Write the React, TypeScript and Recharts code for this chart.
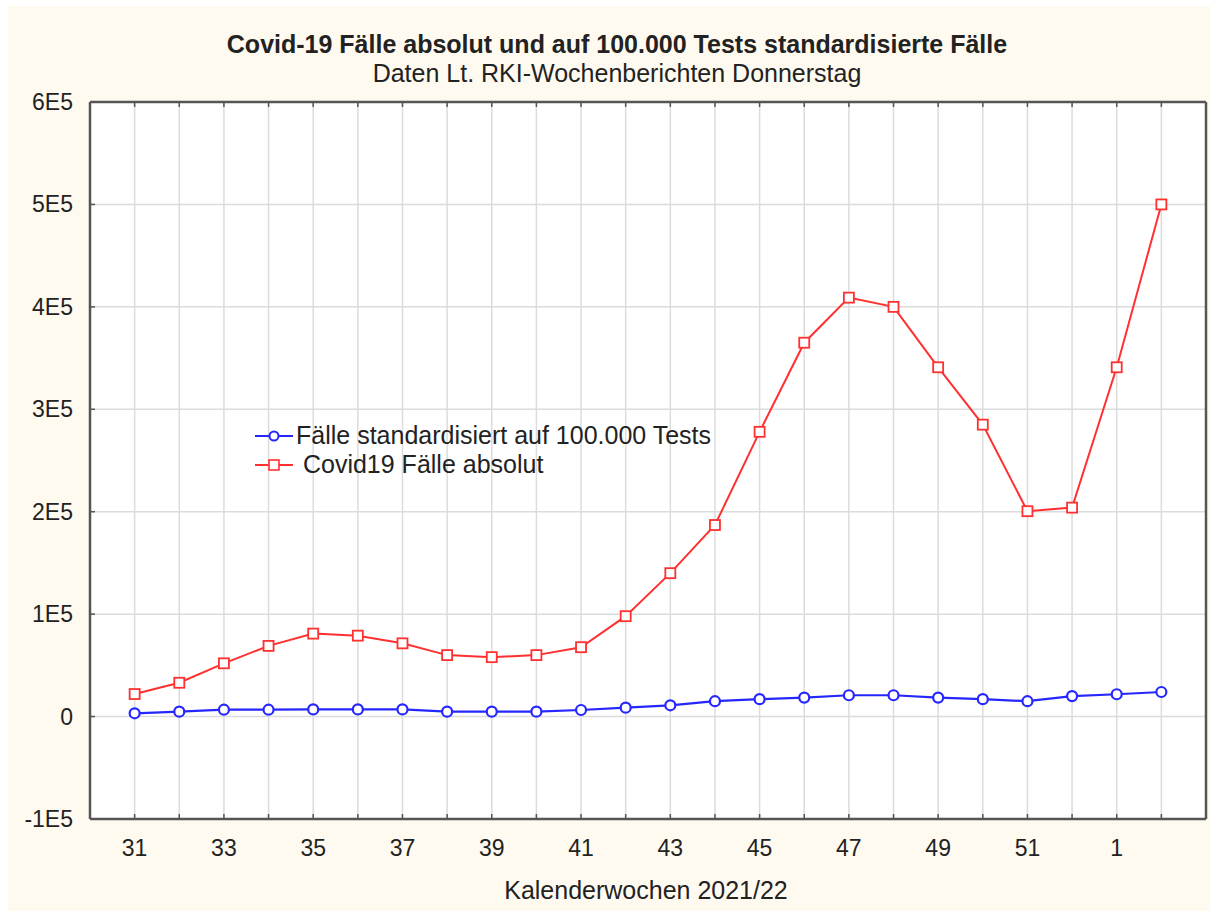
import React from 'react';
import {
  LineChart,
  Line,
  XAxis,
  YAxis,
  CartesianGrid,
  Legend
} from 'recharts';

// Kalenderwochen 2021/22
const weeks = ['31', '32', '33', '34', '35', '36', '37', '38', '39', '40', '41', '42',
  '43', '44', '45', '46', '47', '48', '49', '50', '51', '52', '1', '2'];

// Fälle standardisiert auf 100.000 Tests
const standardized = [3200, 4800, 6700, 6700, 7000, 7000, 7000, 4800, 4800, 4800, 6400, 8700,
  11000, 15000, 17000, 18500, 20800, 20800, 18500, 17000, 15000, 20000, 21800, 24000];

// Covid19 Fälle absolut
const absolute = [22000, 33000, 52000, 69000, 81000, 79000, 71500, 60000, 58000, 60000, 67700, 98000,
  140000, 187000, 278000, 365000, 409000, 400000, 341000, 285000, 200500, 204000, 341000, 500000];

const yTicks = [-100000, 0, 100000, 200000, 300000, 400000, 500000, 600000];

const data = weeks.map((w, i) => ({ idx: i, week: w, std: standardized[i], abs: absolute[i] }));
const xTicks = data.map((d) => d.idx);

const FONT = '"Liberation Sans", Arial, sans-serif';
const TEXT = '#222';
const FRAME = '#555';
const BLUE = '#2626ff';
const RED = '#ff3030';

const fmtY = (v: number) => (v === 0 ? '0' : `${v / 100000}E5`);

const BottomTick = (props: any) => {
  const { x, y, payload } = props;
  const i = payload.value;
  return (
    <g>
      <line x1={x} y1={y} x2={x} y2={y - 5} stroke={FRAME} strokeWidth={1.5} />
      {i % 2 === 0 && (
        <text x={x} y={y + 29} textAnchor="middle" dominantBaseline="central"
          fontFamily={FONT} fontSize={23} fill={TEXT}>
          {weeks[i]}
        </text>
      )}
    </g>
  );
};

const TopTick = (props: any) => {
  const { x, y } = props;
  return <line x1={x} y1={y} x2={x} y2={y + 5} stroke={FRAME} strokeWidth={1.5} />;
};

const LeftTick = (props: any) => {
  const { x, y, payload } = props;
  return (
    <g>
      <line x1={x} y1={y} x2={x + 5} y2={y} stroke={FRAME} strokeWidth={1.5} />
      <text x={x - 17} y={y} textAnchor="end" dominantBaseline="central"
        fontFamily={FONT} fontSize={23} fill={TEXT}>
        {fmtY(payload.value)}
      </text>
    </g>
  );
};

const RightTick = (props: any) => {
  const { x, y } = props;
  return <line x1={x} y1={y} x2={x - 5} y2={y} stroke={FRAME} strokeWidth={1.5} />;
};

const SquareDot = (props: any) => {
  const { cx, cy, index } = props;
  return (
    <rect key={`sq-${index}`} x={cx - 5} y={cy - 5} width={10} height={10}
      fill="#fff" stroke={RED} strokeWidth={1.8} />
  );
};

const LegendBox = () => (
  <div style={{ fontFamily: FONT, fontSize: 25, color: TEXT, lineHeight: '29px' }}>
    <div style={{ display: 'flex', alignItems: 'center', height: 29 }}>
      <svg width={40} height={20}>
        <line x1={0} y1={10} x2={38} y2={10} stroke={BLUE} strokeWidth={2} />
        <circle cx={19} cy={10} r={4.5} fill="#fff" stroke={BLUE} strokeWidth={2} />
      </svg>
      <span style={{ marginLeft: 1, whiteSpace: 'pre' }}>Fälle standardisiert auf 100.000 Tests</span>
    </div>
    <div style={{ display: 'flex', alignItems: 'center', height: 29 }}>
      <svg width={40} height={20}>
        <line x1={0} y1={10} x2={38} y2={10} stroke={RED} strokeWidth={2} />
        <rect x={14} y={5} width={10} height={10} fill="#fff" stroke={RED} strokeWidth={1.6} />
      </svg>
      <span style={{ marginLeft: 1, whiteSpace: 'pre' }}> Covid19 Fälle absolut</span>
    </div>
  </div>
);

export default function App() {
  return (
    <div style={{ position: 'absolute', left: 8, top: 6, width: 1202, height: 905, background: '#fffaf0' }}>
      <div style={{ position: 'absolute', left: 0, width: 1218, top: 23, textAlign: 'center',
        fontFamily: FONT, fontWeight: 'bold', fontSize: 25, color: TEXT, lineHeight: '30px' }}>
        Covid-19 Fälle absolut und auf 100.000 Tests standardisierte Fälle
      </div>
      <div style={{ position: 'absolute', left: 0, width: 1218, top: 52, textAlign: 'center',
        fontFamily: FONT, fontSize: 25, color: TEXT, lineHeight: '30px' }}>
        Daten Lt. RKI-Wochenberichten Donnerstag
      </div>
      <div style={{ position: 'absolute', left: 0, width: 1276, top: 869, textAlign: 'center',
        fontFamily: FONT, fontSize: 25, color: TEXT, lineHeight: '30px' }}>
        Kalenderwochen 2021/22
      </div>
      <LineChart width={1202} height={905} data={data}
        margin={{ top: 90, right: 0, left: 0, bottom: 0 }}>
        <CartesianGrid xAxisId="b" yAxisId="l" stroke="#dcdcdc" strokeWidth={1.5} fill="#ffffff" fillOpacity={1} />
        <XAxis xAxisId="b" dataKey="idx" type="number" domain={[-1, 24]} ticks={xTicks}
          orientation="bottom" height={92} tickSize={0} tickMargin={0} tickLine={false}
          axisLine={{ stroke: FRAME, strokeWidth: 2.5 }} tick={BottomTick} interval={0} />
        <XAxis xAxisId="t" dataKey="idx" type="number" domain={[-1, 24]} ticks={xTicks}
          orientation="top" height={6} tickSize={0} tickMargin={0} tickLine={false}
          axisLine={{ stroke: FRAME, strokeWidth: 2.5 }} tick={TopTick} interval={0} />
        <YAxis yAxisId="l" orientation="left" width={82} domain={[-100000, 600000]} ticks={yTicks}
          type="number" tickSize={0} tickMargin={0} tickLine={false} interval={0}
          axisLine={{ stroke: FRAME, strokeWidth: 2.5 }} tick={LeftTick} />
        <YAxis yAxisId="r" orientation="right" width={4} domain={[-100000, 600000]} ticks={yTicks}
          type="number" tickSize={0} tickMargin={0} tickLine={false} interval={0}
          axisLine={{ stroke: FRAME, strokeWidth: 2.5 }} tick={RightTick} />
        <Legend layout="vertical" align="center" verticalAlign="middle" content={LegendBox}
          wrapperStyle={{ left: 247, top: 415, width: 540 }} />
        <Line xAxisId="b" yAxisId="l" type="linear" dataKey="std" name="Fälle standardisiert auf 100.000 Tests"
          stroke={BLUE} strokeWidth={2.2} dot={{ r: 5, fill: '#fff', stroke: BLUE, strokeWidth: 2.2 }}
          isAnimationActive={false} />
        <Line xAxisId="b" yAxisId="l" type="linear" dataKey="abs" name="Covid19 Fälle absolut"
          stroke={RED} strokeWidth={2} dot={SquareDot} isAnimationActive={false} />
      </LineChart>
    </div>
  );
}
